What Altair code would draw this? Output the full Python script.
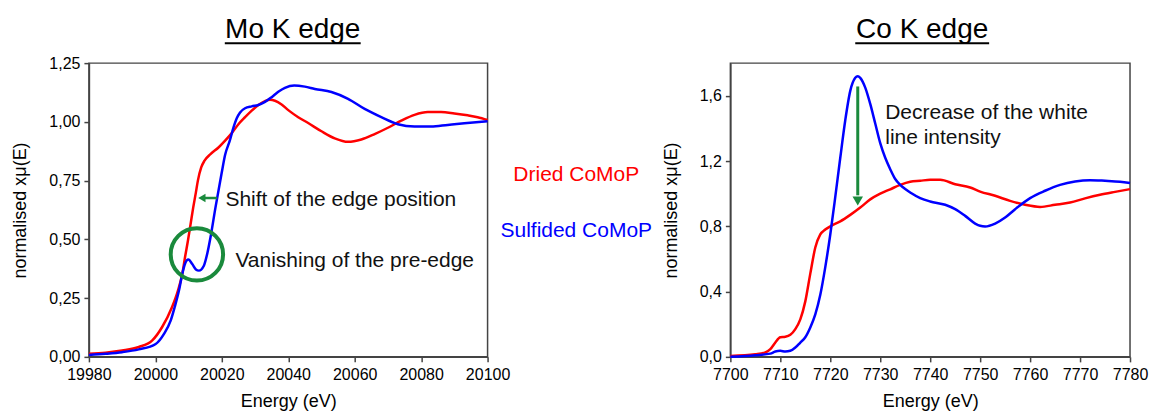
import altair as alt
import pandas as pd

# ---------------- data ----------------
series_names = ["Dried CoMoP", "Sulfided CoMoP"]
series_colors = ["#ff0000", "#0000ff"]
legend_text_colors = ["#ff1010", "#1f4fe0"]
green = "#1a8a3c"

# Mo K edge
mo_energy_dried = [19980, 19985, 19990, 19995, 19999, 20002, 20005, 20006.8, 20008.1, 20009,
                   20009.8, 20010.6, 20011.4, 20012.2, 20012.8, 20013.8, 20014.8, 20016.6, 20019,
                   20021, 20023, 20025, 20027, 20029, 20031, 20033, 20034.5, 20036, 20038, 20040,
                   20043, 20046, 20050, 20054, 20058, 20062, 20066, 20070, 20074, 20078, 20082,
                   20086, 20090, 20094, 20097, 20100]
mo_mu_dried = [0.013, 0.018, 0.027, 0.042, 0.069, 0.126, 0.211, 0.282, 0.353, 0.43,
               0.494, 0.565, 0.636, 0.70, 0.75, 0.806, 0.835, 0.863, 0.891,
               0.92, 0.952, 0.99, 1.02, 1.048, 1.072, 1.088, 1.094, 1.09, 1.074, 1.05,
               1.02, 0.995, 0.96, 0.93, 0.915, 0.925, 0.948, 0.975, 1.005, 1.03, 1.042,
               1.042, 1.036, 1.028, 1.02, 1.008]
mo_energy_sulf = [19980, 19985, 19990, 19995, 20000.1, 20002.6, 20004.6, 20005.8, 20007.1, 20008.1,
                  20008.9, 20009.9, 20011.1, 20012.2, 20013.1, 20014.6, 20015.6, 20016.6, 20018.1,
                  20019.9, 20021, 20022.4, 20023.5, 20024.5, 20025.5, 20027, 20029, 20031, 20033,
                  20035, 20037, 20039, 20041.8, 20045, 20048, 20053, 20058, 20063, 20068, 20073,
                  20078, 20083, 20088, 20093, 20100]
mo_mu_sulf = [0.008, 0.013, 0.02, 0.032, 0.055, 0.098, 0.154, 0.211, 0.282, 0.353,
              0.395, 0.414, 0.395, 0.372, 0.367, 0.388, 0.438, 0.509, 0.636,
              0.778, 0.86, 0.92, 0.975, 1.015, 1.04, 1.058, 1.066, 1.072, 1.085,
              1.105, 1.128, 1.145, 1.155, 1.15, 1.14, 1.127, 1.098, 1.055, 1.02, 0.99,
              0.98, 0.98, 0.987, 0.994, 1.003]

# Co K edge
co_energy_dried = [7700, 7705, 7707, 7708, 7709, 7710, 7711, 7712, 7713, 7714, 7715, 7716, 7717,
                   7718, 7719, 7720, 7722, 7724, 7726, 7728, 7730, 7732, 7734, 7736, 7738, 7740,
                   7742, 7745, 7748, 7750, 7753, 7756, 7759, 7762, 7765, 7768, 7771, 7774, 7777, 7780]
co_mu_dried = [0.006, 0.016, 0.027, 0.047, 0.088, 0.12, 0.123, 0.135, 0.17, 0.23, 0.34, 0.51, 0.67,
               0.75, 0.78, 0.80, 0.83, 0.87, 0.915, 0.965, 1.00, 1.027, 1.054, 1.073, 1.079, 1.085,
               1.085, 1.058, 1.038, 1.013, 0.987, 0.956, 0.932, 0.919, 0.932, 0.946, 0.971, 0.993, 1.011, 1.028]
co_energy_sulf = [7700, 7705, 7708, 7709, 7710, 7711, 7712, 7713, 7714, 7715, 7716, 7717, 7718,
                  7719, 7720, 7721, 7722, 7723, 7724, 7725, 7725.5, 7726, 7727, 7728, 7729, 7730,
                  7731, 7732, 7733, 7734, 7735, 7736, 7738, 7740, 7743, 7745, 7747, 7749, 7750,
                  7751, 7753, 7755, 7757, 7760, 7763, 7766, 7769, 7772, 7775, 7778, 7780]
co_mu_sulf = [0.0, 0.01, 0.02, 0.033, 0.037, 0.033, 0.037, 0.057, 0.088, 0.12, 0.18, 0.26, 0.38,
              0.55, 0.75, 0.98, 1.22, 1.45, 1.63, 1.71, 1.72, 1.71, 1.65, 1.55, 1.43, 1.31,
              1.22, 1.15, 1.09, 1.054, 1.028, 1.007, 0.973, 0.952, 0.932, 0.905, 0.864, 0.817, 0.803,
              0.799, 0.817, 0.854, 0.905, 0.973, 1.018, 1.054, 1.075, 1.083, 1.079, 1.073, 1.065]

# axis ticks
mo_x_ticks = list(range(19980, 20101, 10))
mo_y_ticks = [i * 0.125 for i in range(11)]
co_x_ticks = list(range(7700, 7781, 5))
co_y_ticks = [round(i * 0.2, 1) for i in range(10)]

# annotations (data coordinates)
mo_note_text = ["Shift of the edge position", "Vanishing of the pre-edge"]
mo_note_x = [20021.1, 20024.1]
mo_note_y = [0.64, 0.381]
mo_circle_x = [20012.5]
mo_circle_y = [0.436]
mo_arrow_x = [20014.5]
mo_arrow_x2 = [20018.6]
mo_arrow_y = [0.676]
mo_arrow_head_x = [20014.0]

legend_x = [20126.7, 20126.7]
legend_y = [0.75, 0.511]

co_note_text = ["Decrease of the white", "line intensity"]
co_note_x = [7731, 7731]
co_note_y = [1.459, 1.306]
co_arrow_x = [7725.5]
co_arrow_y = [1.657]
co_arrow_y2 = [0.99]
co_arrow_head_y = [0.955]

FONT = "Liberation Sans"


def series_df(e1, m1, e2, m2):
    return pd.concat([
        pd.DataFrame({"energy": e1, "mu": m1, "series": series_names[0]}),
        pd.DataFrame({"energy": e2, "mu": m2, "series": series_names[1]}),
    ])


def panel(df, xdom, ydom, xticks, yticks, xmajor_test, ymajor_test, ylabel_fmt,
          title, title_x, title_w, extra_layers):
    xscale = alt.Scale(domain=xdom, nice=False, zero=False)
    yscale = alt.Scale(domain=ydom, nice=False, zero=False)
    xaxis = alt.Axis(values=xticks, format="d", title="Energy (eV)",
                     labelExpr=f"({xmajor_test}) ? datum.label : ''",
                     tickSize={"condition": {"test": f"!({xmajor_test})", "value": 3}, "value": 5},
                     labelOverlap=False, labelFlush=False, labelPadding=5, titlePadding=10)
    yaxis = alt.Axis(values=yticks, title="normalised x\u03bc(E)",
                     labelExpr=f"({ymajor_test}) ? replace(format(datum.value, '{ylabel_fmt}'), '.', ',') : ''",
                     tickSize={"condition": {"test": f"!({ymajor_test})", "value": 3}, "value": 5},
                     labelOverlap=False, labelPadding=4, titlePadding=19)
    lines = alt.Chart(df).mark_line(strokeWidth=2.5, interpolate="monotone").encode(
        x=alt.X("energy:Q", scale=xscale, axis=xaxis),
        y=alt.Y("mu:Q", scale=yscale, axis=yaxis),
        color=alt.Color("series:N", scale=alt.Scale(domain=series_names, range=series_colors), legend=None),
    )
    tdf = pd.DataFrame({"t": [title]})
    ttl = alt.Chart(tdf).mark_text(fontSize=28, font=FONT, align="center", baseline="alphabetic",
                                   color="#000").encode(
        x=alt.value(title_x), y=alt.value(-25), text="t:N")
    underline = alt.Chart(tdf).mark_rule(strokeWidth=2, color="#000").encode(
        x=alt.value(title_x - title_w / 2), x2=alt.value(title_x + title_w / 2), y=alt.value(-20))
    return alt.layer(lines, *extra_layers, ttl, underline)


# ---- Mo layers ----
mo_df = series_df(mo_energy_dried, mo_mu_dried, mo_energy_sulf, mo_mu_sulf)
mo_notes = alt.Chart(pd.DataFrame({"x": mo_note_x, "y": mo_note_y, "t": mo_note_text})).mark_text(
    fontSize=21, font=FONT, align="left", baseline="alphabetic", color="#111").encode(
    x="x:Q", y="y:Q", text="t:N")
mo_circle = alt.Chart(pd.DataFrame({"x": mo_circle_x, "y": mo_circle_y})).mark_point(
    shape="circle", size=2750, filled=False, strokeWidth=4, color=green, opacity=1).encode(
    x="x:Q", y="y:Q")
mo_shaft = alt.Chart(pd.DataFrame({"x": mo_arrow_x, "x2": mo_arrow_x2, "y": mo_arrow_y})).mark_rule(
    strokeWidth=2.5, color=green).encode(x="x:Q", x2="x2:Q", y="y:Q")
mo_head = alt.Chart(pd.DataFrame({"x": mo_arrow_head_x, "y": mo_arrow_y})).mark_point(
    shape="triangle-left", size=70, filled=True, color=green, opacity=1).encode(x="x:Q", y="y:Q")
legend = alt.Chart(pd.DataFrame({"x": legend_x, "y": legend_y, "t": series_names})).mark_text(
    fontSize=21, font=FONT, align="center", baseline="alphabetic").encode(
    x="x:Q", y="y:Q", text="t:N",
    color=alt.Color("t:N", scale=alt.Scale(domain=series_names, range=legend_text_colors), legend=None))

mo_panel = panel(mo_df, [19980, 20100], [0, 1.25], mo_x_ticks, mo_y_ticks,
                 "(datum.value - 19980) % 20 == 0",
                 "abs(datum.value * 4 - round(datum.value * 4)) < 0.001", ".2f",
                 "Mo K edge", 204, 136,
                 [mo_circle, mo_shaft, mo_head, mo_notes, legend]).properties(width=399, height=294)

# ---- Co layers ----
co_df = series_df(co_energy_dried, co_mu_dried, co_energy_sulf, co_mu_sulf)
co_notes = alt.Chart(pd.DataFrame({"x": co_note_x, "y": co_note_y, "t": co_note_text})).mark_text(
    fontSize=21, font=FONT, align="left", baseline="alphabetic", color="#111").encode(
    x="x:Q", y="y:Q", text="t:N")
co_shaft = alt.Chart(pd.DataFrame({"x": co_arrow_x, "y": co_arrow_y, "y2": co_arrow_y2})).mark_rule(
    strokeWidth=3, color=green).encode(x="x:Q", y="y:Q", y2="y2:Q")
co_head = alt.Chart(pd.DataFrame({"x": co_arrow_x, "y": co_arrow_head_y})).mark_point(
    shape="triangle-down", size=110, filled=True, color=green, opacity=1).encode(x="x:Q", y="y:Q")

co_panel = panel(co_df, [7700, 7780], [0, 1.8], co_x_ticks, co_y_ticks,
                 "datum.value % 10 == 0",
                 "abs(datum.value / 0.4 - round(datum.value / 0.4)) < 0.001", ".1f",
                 "Co K edge", 192, 134,
                 [co_shaft, co_head, co_notes]).properties(width=400, height=294)

chart = alt.hconcat(mo_panel, co_panel, spacing=243, bounds="flush").properties(
    padding={"left": 11, "top": 15, "right": 0, "bottom": 0}
).configure_axis(
    labelFont=FONT, titleFont=FONT, labelFontSize=16, titleFontSize=18,
    titleFontWeight="normal", labelColor="#000", titleColor="#000",
    domainColor="#444", tickColor="#444", domainWidth=1.5, tickWidth=1.5, grid=False
).configure_view(stroke="#444", strokeWidth=1.5)

chart.save("out.html", embed_options={"renderer": "svg", "actions": False})
